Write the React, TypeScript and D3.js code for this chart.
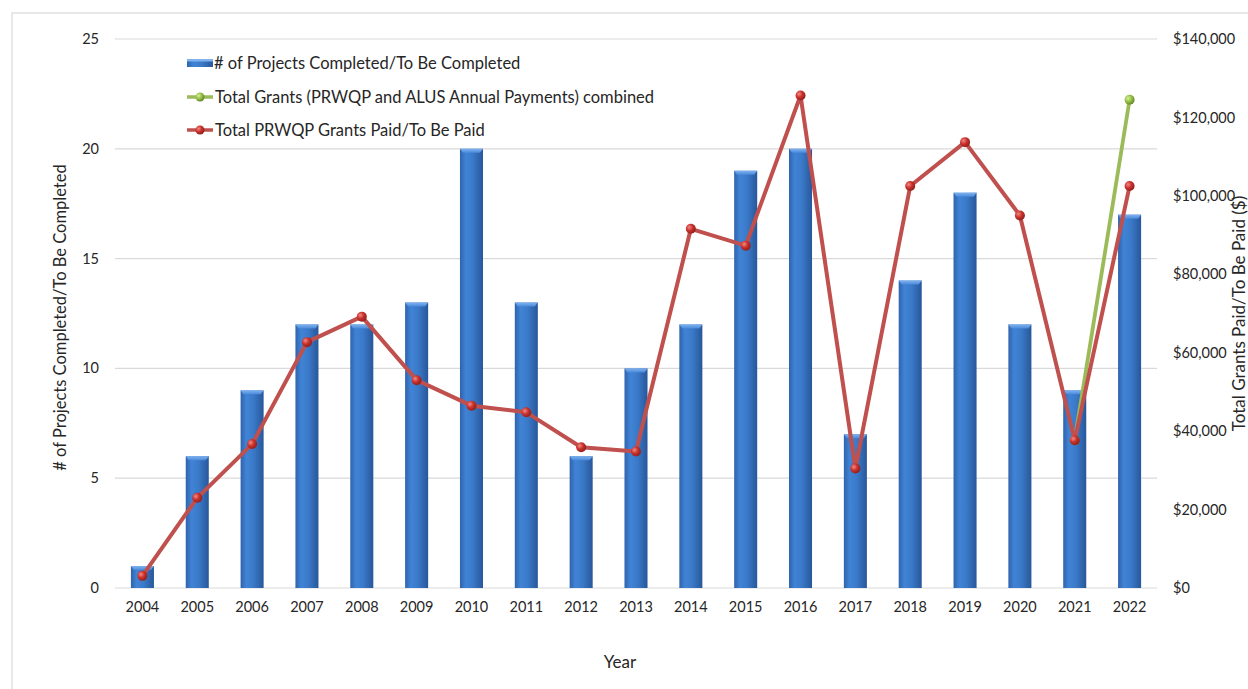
import React from "react";
import * as d3 from "d3";

const years = ["2004", "2005", "2006", "2007", "2008", "2009", "2010", "2011", "2012", "2013", "2014", "2015", "2016", "2017", "2018", "2019", "2020", "2021", "2022"];
const projects = [1, 6, 9, 12, 12, 13, 20, 13, 6, 10, 12, 19, 20, 7, 14, 18, 12, 9, 17];
const prwqpGrants = [3100, 23000, 36700, 62700, 69200, 53000, 46500, 44800, 35900, 34800, 91600, 87300, 125600, 30500, 102500, 113700, 95000, 37700, 102500];
// combined series only exists for the last two years
const combinedYears = ["2021", "2022"];
const combinedGrants = [37700, 124500];
const leftTicks = [0, 5, 10, 15, 20, 25];
const rightTicks = [0, 20000, 40000, 60000, 80000, 100000, 120000, 140000];

const W = 1248;
const H = 689;
const plot = { left: 115, right: 1157, top: 39, bottom: 588 };
const FONT = "Lato, 'Open Sans', sans-serif";
const TXT = "#262626";

export default function App() {
  const x = d3
    .scaleBand<string>()
    .domain(years)
    .range([plot.left, plot.right])
    .paddingInner(0.58)
    .paddingOuter(0.29);
  const yLeft = d3.scaleLinear().domain([0, 25]).range([plot.bottom, plot.top]);
  const yRight = d3.scaleLinear().domain([0, 140000]).range([plot.bottom, plot.top]);
  const cx = (yr: string) => (x(yr) ?? 0) + x.bandwidth() / 2;

  const redLine = d3
    .line<number>()
    .x((_, i) => cx(years[i]))
    .y((d) => yRight(d));
  const greenLine = d3
    .line<number>()
    .x((_, i) => cx(combinedYears[i]))
    .y((d) => yRight(d));

  const money = (v: number) => "$" + d3.format(",")(v);
  const bw = x.bandwidth();

  return (
    <svg
      width={W}
      height={H}
      style={{ position: "absolute", left: 0, top: 0, background: "#fff" }}
      fontFamily={FONT}
    >
      <defs>
        <linearGradient id="barGrad" x1="0" x2="1" y1="0" y2="0">
          <stop offset="0%" stopColor="#2f63ab" />
          <stop offset="25%" stopColor="#4083d6" />
          <stop offset="55%" stopColor="#3b7ac9" />
          <stop offset="100%" stopColor="#28579a" />
        </linearGradient>
        <linearGradient id="barTop" x1="0" x2="0" y1="0" y2="1">
          <stop offset="0%" stopColor="#7fb2ef" />
          <stop offset="100%" stopColor="#4a8ada" />
        </linearGradient>
        <radialGradient id="redBall" cx="35%" cy="35%" r="70%">
          <stop offset="0%" stopColor="#f08a86" />
          <stop offset="50%" stopColor="#c9302b" />
          <stop offset="100%" stopColor="#8e1f1b" />
        </radialGradient>
        <radialGradient id="greenBall" cx="35%" cy="35%" r="70%">
          <stop offset="0%" stopColor="#d8ef9c" />
          <stop offset="50%" stopColor="#95c044" />
          <stop offset="100%" stopColor="#62822a" />
        </radialGradient>
      </defs>

      {/* chart frame */}
      <rect x={12} y={13} width={W + 20} height={H + 20} fill="none" stroke="#d9d9d9" strokeWidth={1.2} />

      {/* gridlines */}
      {leftTicks.map((t) => (
        <line
          key={t}
          x1={plot.left}
          x2={plot.right}
          y1={yLeft(t)}
          y2={yLeft(t)}
          stroke="#d9d9d9"
          strokeWidth={1.2}
        />
      ))}

      {/* left axis labels */}
      {leftTicks.map((t) => (
        <text key={t} x={99} y={yLeft(t)} dy="0.35em" textAnchor="end" fontSize={14.5} fill={TXT}>
          {t}
        </text>
      ))}

      {/* right axis labels */}
      {rightTicks.map((t) => (
        <text key={t} x={1173} y={yRight(t)} dy="0.35em" textAnchor="start" fontSize={14.5} fill={TXT}>
          {money(t)}
        </text>
      ))}

      {/* x labels */}
      {years.map((yr) => (
        <text key={yr} x={cx(yr)} y={612} textAnchor="middle" fontSize={14.5} fill={TXT}>
          {yr}
        </text>
      ))}

      {/* axis titles */}
      <text x={620} y={668} textAnchor="middle" fontSize={17} fill={TXT}>
        Year
      </text>
      <text
        transform={`translate(66,${(plot.top + plot.bottom) / 2 + 4}) rotate(-90)`}
        textAnchor="middle"
        fontSize={16.5}
        fill={TXT}
      >
        # of Projects Completed/To Be Completed
      </text>
      <text
        transform={`translate(1245,${(plot.top + plot.bottom) / 2}) rotate(-90)`}
        textAnchor="middle"
        fontSize={17}
        fill={TXT}
      >
        Total Grants Paid/To Be Paid ($)
      </text>

      {/* bars */}
      {projects.map((v, i) => {
        const bx = x(years[i]) ?? 0;
        const by = yLeft(v);
        const h = plot.bottom - by;
        const bev = Math.min(4, h);
        return (
          <g key={years[i]}>
            <rect x={bx} y={by} width={bw} height={h} fill="url(#barGrad)" />
            <polygon
              points={`${bx},${by} ${bx + bw},${by} ${bx + bw - 3},${by + bev} ${bx + 3},${by + bev}`}
              fill="url(#barTop)"
            />
          </g>
        );
      })}

      {/* green line */}
      <path d={greenLine(combinedGrants) ?? ""} fill="none" stroke="#9bbb59" strokeWidth={3.8} strokeLinejoin="round" />
      {combinedGrants.map((v, i) => (
        <circle key={i} cx={cx(combinedYears[i])} cy={yRight(v)} r={5} fill="url(#greenBall)" />
      ))}

      {/* red line */}
      <path d={redLine(prwqpGrants) ?? ""} fill="none" stroke="#c0504d" strokeWidth={4} strokeLinejoin="round" />
      {prwqpGrants.map((v, i) => (
        <circle key={years[i]} cx={cx(years[i])} cy={yRight(v)} r={5} fill="url(#redBall)" />
      ))}

      {/* legend */}
      <g fontSize={16.5} fill={TXT}>
        <rect x={187} y={59} width={26} height={8} fill="url(#barGrad)" />
        <rect x={187} y={59} width={26} height={2.5} fill="#7fb2ef" />
        <text x={214} y={63} dy="0.35em">
          # of Projects Completed/To Be Completed
        </text>

        <line x1={187} x2={213} y1={97} y2={97} stroke="#9bbb59" strokeWidth={3.5} />
        <circle cx={200} cy={97} r={4.5} fill="url(#greenBall)" />
        <text x={215} y={97} dy="0.35em">
          Total Grants (PRWQP and ALUS Annual Payments) combined
        </text>

        <line x1={187} x2={213} y1={130} y2={130} stroke="#c0504d" strokeWidth={3.5} />
        <circle cx={200} cy={130} r={4.5} fill="url(#redBall)" />
        <text x={215} y={130} dy="0.35em">
          Total PRWQP Grants Paid/To Be Paid
        </text>
      </g>
    </svg>
  );
}
